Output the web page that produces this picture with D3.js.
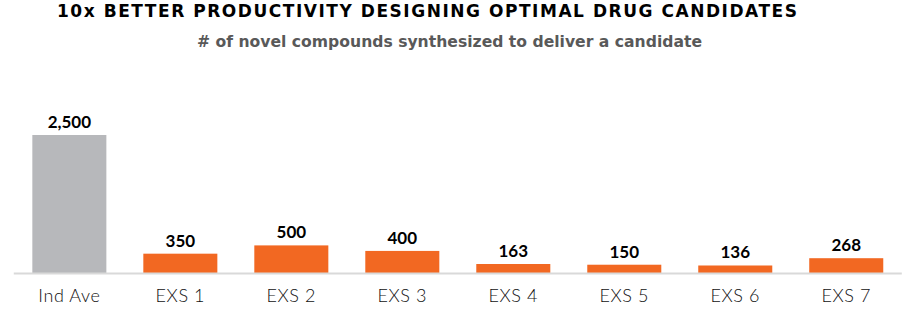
<!DOCTYPE html>
<html>
<head>
<meta charset="utf-8">
<script src="https://cdn.jsdelivr.net/npm/d3@7"></script>
<style>
  body { margin: 0; background: #fff; }
  text { font-family: "Lato", "Open Sans", sans-serif; }
</style>
</head>
<body>
<div id="chart"></div>
<script>
var categories = ['Ind Ave', 'EXS 1', 'EXS 2', 'EXS 3', 'EXS 4', 'EXS 5', 'EXS 6', 'EXS 7'];
var values = [2500, 350, 500, 400, 163, 150, 136, 268];
var valueLabels = ['2,500', '350', '500', '400', '163', '150', '136', '268'];

var width = 910, height = 318;
var baseY = 273, topY = 135;

var svg = d3.select('#chart')
    .append('svg')
    .attr('width', width)
    .attr('height', height);

// title + subtitle
svg.append('text')
    .attr('x', 57)
    .attr('y', 17)
    .attr('textLength', 740)
    .attr('lengthAdjust', 'spacing')
    .style('font-family', '"DejaVu Sans", sans-serif')
    .style('font-weight', 'bold')
    .style('font-size', '17px')
    .style('fill', '#000')
    .text('10x BETTER PRODUCTIVITY DESIGNING OPTIMAL DRUG CANDIDATES');

svg.append('text')
    .attr('x', 197)
    .attr('y', 47)
    .attr('textLength', 505)
    .attr('lengthAdjust', 'spacingAndGlyphs')
    .style('font-family', '"DejaVu Sans", sans-serif')
    .style('font-weight', 'bold')
    .style('font-size', '15px')
    .style('fill', '#595959')
    .text('# of novel compounds synthesized to deliver a candidate');

var x = d3.scaleBand()
    .domain(categories)
    .range([13.8, 901.8])
    .paddingInner(0.333)
    .paddingOuter(0.167);

var y = d3.scaleLinear()
    .domain([0, 2500])
    .range([baseY, topY]);

svg.selectAll('.bar')
    .data(values)
    .enter().append('rect')
    .attr('class', 'bar')
    .attr('x', function (d, i) { return x(categories[i]); })
    .attr('y', function (d) { return y(d); })
    .attr('width', x.bandwidth())
    .attr('height', function (d) { return baseY - y(d); })
    .style('fill', function (d, i) { return i === 0 ? '#b7b8bb' : '#f26822'; });

// baseline
svg.append('line')
    .attr('x1', x.range()[0])
    .attr('x2', x.range()[1])
    .attr('y1', baseY + 0.5)
    .attr('y2', baseY + 0.5)
    .style('stroke', '#d9d9d9')
    .style('stroke-width', 2);

svg.selectAll('.val')
    .data(values)
    .enter().append('text')
    .attr('class', 'val')
    .attr('x', function (d, i) { return x(categories[i]) + x.bandwidth() / 2; })
    .attr('y', function (d) { return y(d) - 7; })
    .attr('text-anchor', 'middle')
    .style('font-weight', 'bold')
    .style('font-size', '17px')
    .style('fill', '#000')
    .text(function (d, i) { return valueLabels[i]; });

var xAxis = svg.append('g')
    .attr('transform', 'translate(0,' + baseY + ')')
    .call(d3.axisBottom(x).tickSize(0).tickPadding(16));

xAxis.select('.domain').remove();
xAxis.selectAll('text')
    .style('font-family', '"Lato", sans-serif')
    .style('font-weight', '300')
    .style('font-size', '18px')
    .style('letter-spacing', '0.6px')
    .style('fill', '#111');
</script>
</body>
</html>
